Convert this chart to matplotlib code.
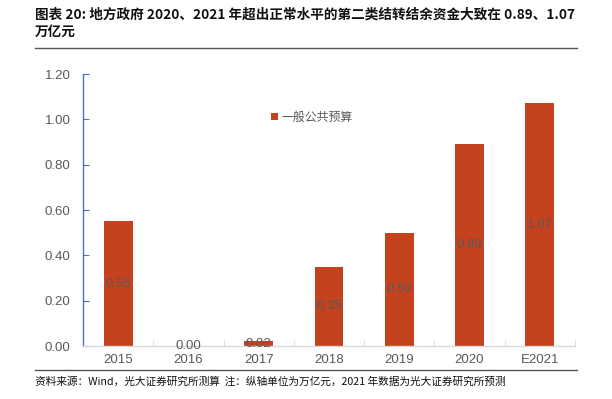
import matplotlib
matplotlib.use("Agg")
import matplotlib.pyplot as plt
from matplotlib.lines import Line2D
from matplotlib.patches import Patch

categories = ["2015", "2016", "2017", "2018", "2019", "2020", "E2021"]
values = [0.55, 0.00, 0.02, 0.35, 0.50, 0.89, 1.07]
yticks = [0.0, 0.2, 0.4, 0.6, 0.8, 1.0, 1.2]
series_name = "一般公共预算"
title = "图表 20: 地方政府 2020、2021 年超出正常水平的第二类结转结余资金大致在 0.89、1.07\n万亿元"
source = "资料来源：Wind，光大证券研究所测算  注：纵轴单位为万亿元，2021 年数据为光大证券研究所预测"

bar_color = "#C5421F"
text_gray = "#595959"
cjk = ["Noto Sans CJK SC", "DejaVu Sans"]
num_font = ["Liberation Sans", "DejaVu Sans"]

fig = plt.figure(figsize=(6.12, 3.99), dpi=100)
ax = fig.add_axes([0.1356, 0.1328, 0.8039, 0.6817])

x = list(range(len(categories)))
bars = ax.bar(x, values, width=0.41, color=bar_color, zorder=2)
for xi, v in zip(x, values):
    ax.text(xi, v / 2, f"{v:.2f}", ha="center", va="center",
            fontsize=9.5, color=text_gray, family=num_font, zorder=3)

ax.set_xlim(-0.5, len(categories) - 0.5)
ax.set_ylim(0, 1.2)
ax.set_yticks(yticks)
ax.set_yticklabels([f"{t:.2f}" for t in yticks], family=num_font)
ax.set_xticks(x)
ax.set_xticklabels(categories, family=num_font)
ax.set_xticks([i + 0.5 for i in x], minor=True)

for s in ["top", "right"]:
    ax.spines[s].set_visible(False)
ax.spines["left"].set_color("#4472C4")
ax.spines["left"].set_linewidth(1.0)
ax.spines["bottom"].set_color("#D9D9D9")
ax.spines["bottom"].set_linewidth(1.0)

ax.tick_params(axis="y", direction="in", length=4, color="#4472C4",
               labelsize=9.5, labelcolor=text_gray, pad=9)
ax.tick_params(axis="x", which="major", length=0, labelsize=9.5,
               labelcolor=text_gray, pad=6)
ax.tick_params(axis="x", which="minor", direction="in", length=4,
               color="#D9D9D9")

handle = Patch(facecolor=bar_color, edgecolor="none")
leg = ax.legend([handle], [series_name], loc="upper left",
                bbox_to_anchor=(0.36, 0.905), frameon=False,
                handlelength=0.6, handleheight=0.6, handletextpad=0.3,
                prop={"family": cjk, "size": 8.6})
for t in leg.get_texts():
    t.set_color(text_gray)

fig.text(0.057, 0.982, title, ha="left", va="top", fontsize=9.8,
         fontweight="bold", family=cjk, color="#111111", linespacing=1.35)
fig.add_artist(Line2D([0.057, 0.943], [0.879, 0.879], color="#555555", lw=1.0))
fig.add_artist(Line2D([0.057, 0.943], [0.073, 0.073], color="#555555", lw=1.0))
fig.text(0.057, 0.045, source, ha="left", va="center", fontsize=7.7,
         family=cjk, color="#111111")

fig.savefig("out.png", dpi=100)
